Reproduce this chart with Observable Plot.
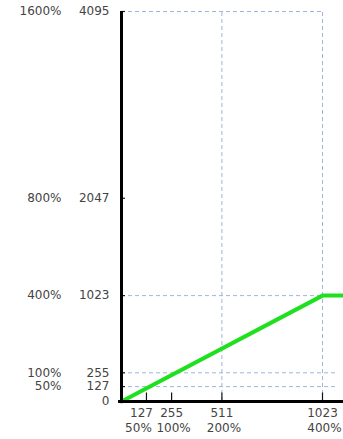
<!DOCTYPE html>
<html>
<head>
<meta charset="utf-8">
<script src="https://cdn.jsdelivr.net/npm/d3@7"></script>
<script src="https://cdn.jsdelivr.net/npm/@observablehq/plot@0.6"></script>
<style>
  html, body { margin: 0; padding: 0; background: #fff; }
  #chart svg { display: block; overflow: hidden; }
</style>
</head>
<body>
<div id="chart"></div>
<script>
// Y axis tick values and their percentage labels
const yTicks = [0, 127, 255, 1023, 2047, 4095];
const yPercent = ["", "50%", "100%", "400%", "800%", "1600%"];
// X axis tick values and their percentage labels
const xTicks = [127, 255, 511, 1023];
const xPercent = ["50%", "100%", "200%", "400%"];
// Curve: output value vs input value (linear up to 1023, then clipped)
const curveX = [0, 1023, 1140];
const curveY = [0, 1023, 1023];
// Horizontal dashed gridlines: level and where they end on x
const hGridY = [4095, 1023, 255, 127];
const hGridEnd = [1023, 1023, 1090, 1090];
// Vertical dashed gridlines
const vGridX = [511, 1023];

const curve = curveX.map((x, i) => ({x, y: curveY[i]}));
const hGrid = hGridY.map((y, i) => ({y, x2: hGridEnd[i]}));
const yLab = yTicks.map((v, i) => ({v, p: yPercent[i]}));
const xLab = xTicks.map((v, i) => ({v, p: xPercent[i]}));
const xLabFirst = xLab.slice(0, 1);
const xLabRest = xLab.slice(1);

const gridStyle = {stroke: "#9fb6d8", strokeWidth: 1, strokeDasharray: "4,3"};
const font = "DejaVu Sans, Verdana, sans-serif";
const txt = {fill: "#444", fontSize: 12};

const chart = Plot.plot({
  width: 343,
  height: 439,
  style: {fontFamily: font, fontSize: "12px", color: "#444", background: "#fff"},
  x: {domain: [0, 1023], range: [121, 322], axis: null},
  y: {type: "pow", exponent: 0.94, domain: [0, 4095], range: [401, 11], axis: null},
  marks: [
    // grid
    Plot.ruleY(hGrid, {y: "y", x1: 0, x2: "x2", ...gridStyle}),
    Plot.ruleX(vGridX, {x: d => d, y1: 0, y2: 4095, ...gridStyle}),
    // curve
    Plot.line(curve, {x: "x", y: "y", stroke: "#1fe01f", strokeWidth: 4, strokeLinejoin: "round"}),
    // small ticks
    Plot.ruleX(xTicks, {x: d => d, y1: 0, y2: 70, stroke: "#111", strokeWidth: 1.2}),
    Plot.ruleY(yTicks, {y: d => d, x1: 0, x2: 20, stroke: "#111", strokeWidth: 1.2}),
    // axes lines
    Plot.ruleX([0], {y1: 0, y2: 4095, stroke: "#000", strokeWidth: 3}),
    Plot.ruleY([0], {x1: -15, x2: 1200, stroke: "#000", strokeWidth: 3}),
    // y labels
    Plot.text(yLab, {x: 0, y: "v", text: d => String(d.v), textAnchor: "end", dx: -12, ...txt}),
    Plot.text(yLab, {x: 0, y: "v", text: "p", textAnchor: "end", dx: -60, ...txt}),
    // x labels
    Plot.text(xLabFirst, {x: "v", y: 0, text: d => String(d.v), dy: 12, dx: -5, ...txt}),
    Plot.text(xLabFirst, {x: "v", y: 0, text: "p", dy: 27, dx: -8, ...txt}),
    Plot.text(xLabRest, {x: "v", y: 0, text: d => String(d.v), dy: 12, ...txt}),
    Plot.text(xLabRest, {x: "v", y: 0, text: "p", dy: 27, dx: 2, ...txt})
  ]
});
document.getElementById("chart").appendChild(chart);
</script>
</body>
</html>
